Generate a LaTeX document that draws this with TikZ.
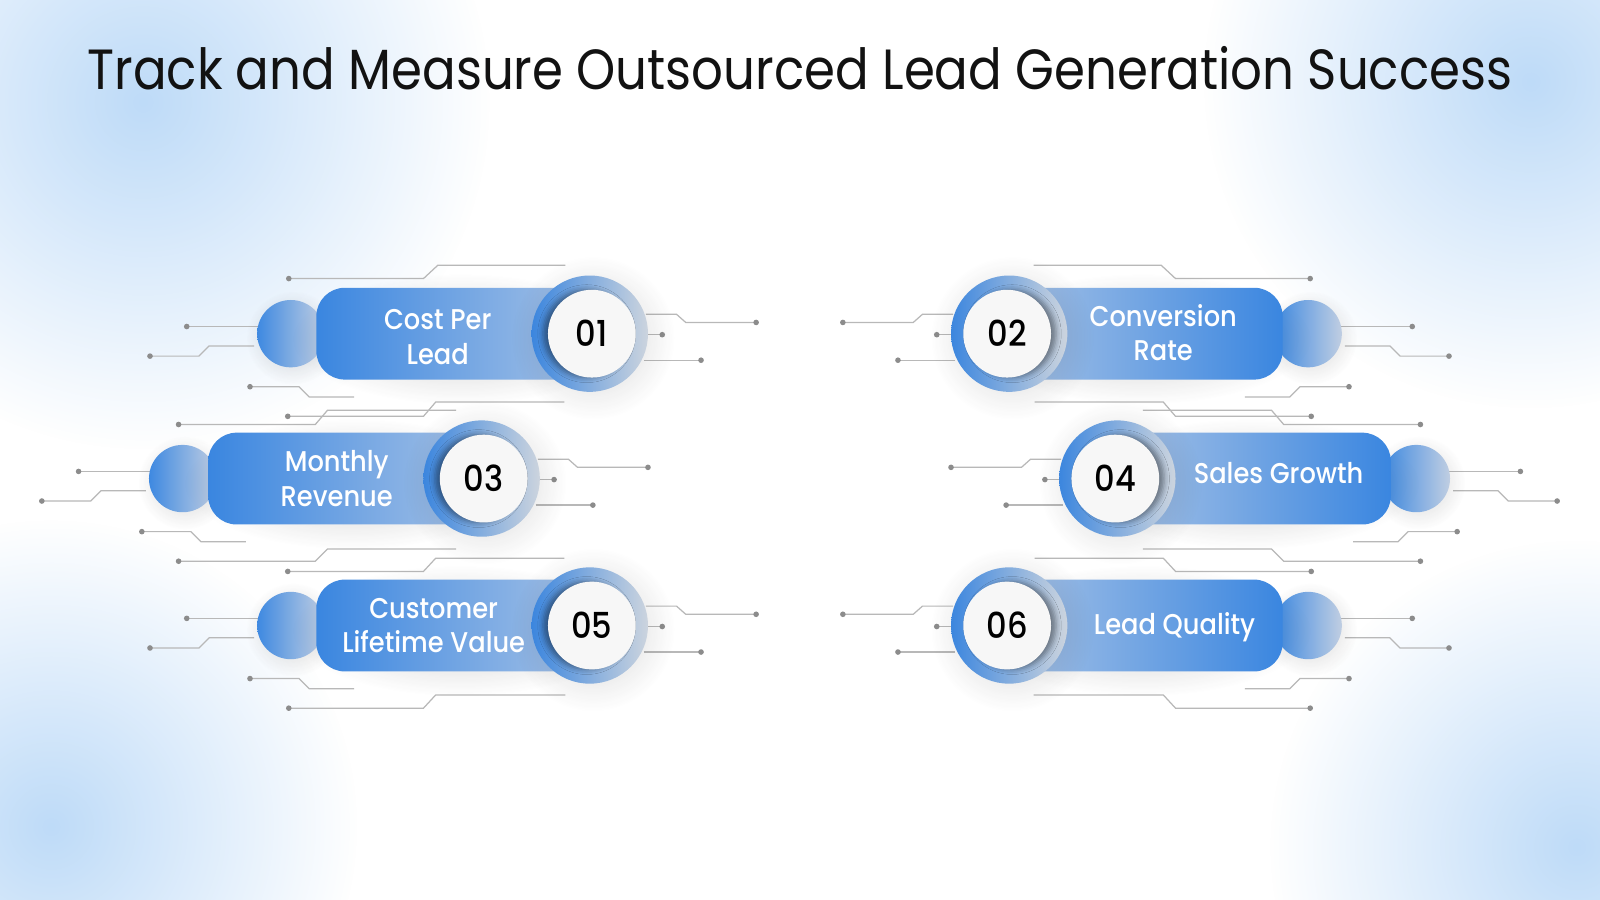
\documentclass[tikz,border=0pt]{standalone}
\usepackage{fontspec}
\setmainfont{Poppins}[FakeStretch=0.88]
\newfontfamily\medfont{Poppins Medium}[FakeStretch=0.9]
\usetikzlibrary{shadows.blur,fadings}

\definecolor{pillblue}{RGB}{58,134,224}
\definecolor{pilllight}{RGB}{170,196,230}
\definecolor{ballblue}{RGB}{62,137,225}
\definecolor{balllight}{RGB}{192,206,226}
\definecolor{ringblue}{RGB}{60,134,222}
\definecolor{ringlight}{RGB}{204,212,222}
\definecolor{diskwhite}{RGB}{247,247,247}
\definecolor{tracegray}{RGB}{184,184,184}
\definecolor{dotgray}{RGB}{140,140,140}
\definecolor{bgblue}{RGB}{190,219,248}

\tikzfading[name=blob, inner color=transparent!0, outer color=transparent!100]

\tikzset{
  trace/.style={draw=tracegray, line width=1.2pt},
  dot/.style={circle, fill=dotgray, inner sep=0pt, minimum size=5.5pt},
  glow/.style={fill=black!80, fill opacity=0.22, path fading=blob},
  ball/.style={circle, minimum size=66pt, inner sep=0pt, left color=ballblue, right color=balllight},
  pill/.style={rectangle, rounded corners=28pt, minimum height=90pt, minimum width=278pt, inner sep=0pt},
  ring/.style={circle, minimum size=114pt, inner sep=0pt, left color=ringblue, right color=ringlight},
  disk/.style={circle, minimum size=86pt, inner sep=0pt, fill=diskwhite, text=black,
    font=\medfont\fontsize{35}{35}\selectfont},
  lbl/.style={text=white, align=center, font=\medfont\fontsize{28}{34}\selectfont},
  title/.style={anchor=base, text=black!93, font=\fontsize{55.5}{60}\selectfont},
  bgblob/.style={fill=bgblue, path fading=blob},
}

% wires around one item, drawn for the item at (578,327)
\newcommand{\itemwires}{%
  \draw [trace] (183,320) node[dot] {} -- (253,320);
  \draw [trace] (147,349) node[dot] {} -- (195,349) -- (205,339) -- (249,339);
  \draw [trace] (245,379) node[dot] {} -- (293,379) -- (303,389) -- (347,389);
  \draw [trace] (633,308) -- (663,308) -- (672,316) -- (741,316) node[dot] {};
  \draw [trace] (633,328) -- (649,328) node[dot] {};
  \draw [trace] (631,353) -- (687,353) node[dot] {};
}

% #1 name, #2 x and #3 y of the number ring, #4 number
\newcommand{\leftitem}[4]{%
  \fill [glow] ({#2-291},{#3+4}) circle (46pt);
  \node [ball] (#1ball) at ({#2-293},#3) {};
  \fill [glow] ({#2-127},{#3+5}) ellipse (165pt and 64pt);
  \node [pill, left color=pillblue, right color=pilllight] (#1pill) at ({#2-129},#3) {};
  \fill [glow] ({#2+3},{#3+4}) circle (80pt);
  \node [ring] (#1ring) at (#2,#3) {};
  \node [disk, blur shadow={shadow xshift=-5pt, shadow yshift=0pt, shadow blur radius=5pt, shadow opacity=40}]
    (#1num) at ({#2+2},#3) {#4};
}
\newcommand{\rightitem}[4]{%
  \fill [glow] ({#2+295},{#3+4}) circle (46pt);
  \node [ball] (#1ball) at ({#2+293},#3) {};
  \fill [glow] ({#2+131},{#3+5}) ellipse (165pt and 64pt);
  \node [pill, left color=pilllight, right color=pillblue] (#1pill) at ({#2+129},#3) {};
  \fill [glow] ({#2+3},{#3+4}) circle (80pt);
  \node [ring] (#1ring) at (#2,#3) {};
  \node [disk, blur shadow={shadow xshift=5pt, shadow yshift=0pt, shadow blur radius=5pt, shadow opacity=40}]
    (#1num) at ({#2-2},#3) {#4};
}

\begin{document}
\begin{tikzpicture}[x=1pt, y=-1pt]
  \useasboundingbox (0,0) rectangle (1568,882);
  \clip (0,0) rectangle (1568,882);
  \fill [white] (0,0) rectangle (1568,882);
  \fill [bgblob] (140,100) circle (340pt);
  \fill [bgblob] (1500,80) circle (320pt);
  \fill [bgblob] (50,810) circle (300pt);
  \fill [bgblob] (1545,830) circle (300pt);

  % circuit wires, left half then mirrored
  \foreach \side/\off in {1/0, -1/1567} {
    \begin{scope}[xshift=\off pt, xscale=\side]
      \draw [trace] (283,273) node[dot] {} -- (415,273) -- (429,260) -- (554,260);
      \draw [trace] (282,408) node[dot] {} -- (415,408) -- (427,394) -- (553,394);
      \draw [trace] (175,416) node[dot] {} -- (309,416) -- (321,402) -- (447,402);
      \draw [trace] (175,550) node[dot] {} -- (309,550) -- (321,538) -- (447,538);
      \draw [trace] (282,560) node[dot] {} -- (415,560) -- (427,547) -- (553,547);
      \draw [trace] (283,694) node[dot] {} -- (415,694) -- (427,681) -- (554,681);
      \itemwires
      \begin{scope}[shift={(-106,142)}] \itemwires \end{scope}
      \begin{scope}[shift={(0,286)}] \itemwires \end{scope}
    \end{scope}
  }

  \leftitem{a}{578}{327}{01}
  \rightitem{b}{989}{327}{02}
  \leftitem{c}{472}{469}{03}
  \rightitem{d}{1095}{469}{04}
  \leftitem{e}{578}{613}{05}
  \rightitem{f}{989}{613}{06}

  \node [lbl] (alabel) at (429,330) {Cost Per\\Lead};
  \node [lbl] (blabel) at (1140,326) {Conversion\\Rate};
  \node [lbl] (clabel) at (330,469) {Monthly\\Revenue};
  \node [lbl, anchor=base] (dlabel) at (1253,474) {Sales Growth};
  \node [lbl] (elabel) at (425,613) {Customer\\Lifetime Value};
  \node [lbl, anchor=base] (flabel) at (1151,622) {Lead Quality};

  \node [title] (title) at (784,88) {Track and Measure Outsourced Lead Generation Success};
\end{tikzpicture}
\end{document}
